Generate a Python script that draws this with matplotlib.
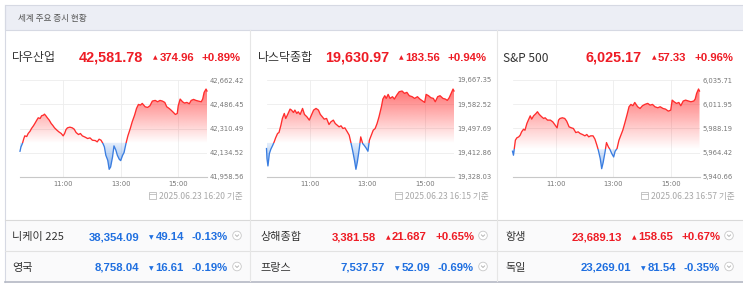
import numpy as np
import matplotlib
matplotlib.use("Agg")
import matplotlib.pyplot as plt
from matplotlib.patches import Rectangle, Circle, PathPatch
from matplotlib.lines import Line2D
from matplotlib.transforms import Affine2D
from matplotlib.colors import to_rgb

# ---- data -------------------------------------------------------------
header = "세계 주요 증시 현황"

main_names = ["다우산업", "나스닥종합", "S&P 500"]
main_values = [42581.78, 19630.97, 6025.17]
main_changes = [374.96, 183.56, 57.33]
main_pcts = [0.89, 0.94, 0.96]
main_stamps = ["2025.06.23 16:20", "2025.06.23 16:15", "2025.06.23 16:57"]
main_lows = [41958.56, 19328.03, 5940.66]
main_highs = [42662.42, 19667.35, 6035.71]
main_ticks = [
    [41958.56, 42134.52, 42310.49, 42486.45, 42662.42],
    [19328.03, 19412.86, 19497.69, 19582.52, 19667.35],
    [5940.66, 5964.42, 5988.19, 6011.95, 6035.71],
]
time_ticks = [90, 210, 330]          # minutes after 09:30
time_labels = ["11:00", "13:00", "15:00"]

# minutes after 09:30 and index level
dow_min = [0, 2, 5, 8, 10, 14, 17, 21, 24, 28, 31, 35, 38, 42, 45, 49, 51, 54, 57, 61,
           65, 68, 72, 77, 81, 86, 90, 93, 96, 99, 104, 109, 113, 117, 122, 126, 130, 136, 141, 146,
           151, 157, 161, 165, 169, 173, 176, 179, 183, 186, 189, 193, 196, 200, 203, 207, 210, 214, 217, 221,
           225, 230, 234, 239, 243, 247, 251, 255, 261, 266, 271, 276, 282, 287, 292, 297, 302, 306, 311, 315,
           320, 324, 328, 330, 334, 339, 343, 348, 353, 357, 362, 367, 372, 378, 381, 384, 388, 390]
dow_val = [42145.45, 42177.0, 42201.3, 42237.7, 42257.1, 42252.2, 42274.1, 42291.1, 42310.5, 42329.9,
           42346.9, 42371.1, 42388.1, 42383.3, 42402.7, 42407.6, 42414.8, 42402.7, 42388.1, 42371.1,
           42346.9, 42334.7, 42315.3, 42298.3, 42286.2, 42274.1, 42257.1, 42274.1, 42303.2, 42315.3,
           42320.2, 42315.3, 42305.6, 42281.3, 42266.8, 42274.1, 42257.1, 42247.4, 42237.7, 42242.5,
           42225.5, 42223.1, 42213.4, 42232.8, 42225.5, 42201.3, 42177.0, 42116.3, 42079.9, 42014.4,
           42031.4, 42104.2, 42184.3, 42152.7, 42116.3, 42087.2, 42077.5, 42116.3, 42135.7, 42201.3,
           42257.1, 42310.5, 42359.0, 42407.6, 42456.1, 42485.2, 42480.4, 42492.5, 42468.2, 42463.4,
           42475.5, 42509.5, 42514.3, 42504.6, 42514.3, 42509.5, 42499.8, 42468.2, 42456.1, 42444.0,
           42427.0, 42412.4, 42419.7, 42475.5, 42524.1, 42504.6, 42494.9, 42499.8, 42490.1, 42514.3,
           42521.6, 42514.3, 42509.5, 42504.6, 42524.1, 42572.6, 42596.9, 42582.3]

nas_min = [0, 1, 3, 6, 9, 13, 16, 19, 23, 26, 30, 33, 37, 40, 44, 49, 52, 56, 59, 63,
           66, 70, 75, 79, 84, 89, 94, 98, 103, 108, 112, 116, 120, 125, 130, 134, 139, 143, 147, 151,
           155, 159, 163, 168, 172, 176, 179, 183, 186, 189, 193, 196, 200, 203, 207, 211, 214, 218, 222, 226,
           230, 234, 239, 242, 246, 249, 253, 257, 262, 266, 271, 276, 282, 287, 292, 297, 303, 308, 314, 319,
           325, 329, 332, 337, 342, 347, 351, 356, 361, 367, 372, 376, 380, 385, 388, 390]
nas_val = [19427.5, 19392.4, 19366.7, 19410.0, 19425.2, 19439.2, 19450.9, 19465.0, 19480.2, 19483.7,
           19509.4, 19532.8, 19550.4, 19532.8, 19546.8, 19565.6, 19562.1, 19553.8, 19562.1, 19550.4,
           19556.2, 19546.8, 19567.9, 19546.8, 19538.7, 19527.0, 19546.8, 19562.1, 19567.9, 19562.1,
           19546.8, 19538.7, 19530.5, 19532.8, 19511.7, 19521.1, 19527.0, 19515.2, 19509.4, 19503.5,
           19507.1, 19497.7, 19500.0, 19486.0, 19474.3, 19445.0, 19421.6, 19386.5, 19354.9, 19380.7,
           19427.5, 19468.4, 19445.0, 19439.2, 19429.8, 19418.1, 19456.7, 19474.3, 19491.8, 19497.7,
           19515.2, 19538.7, 19573.8, 19600.7, 19612.4, 19603.0, 19617.1, 19603.0, 19608.9, 19600.7,
           19614.7, 19626.4, 19628.8, 19620.6, 19624.1, 19612.4, 19608.9, 19603.0, 19608.9, 19600.7,
           19593.6, 19589.0, 19617.1, 19612.4, 19605.3, 19603.0, 19591.3, 19608.9, 19612.4, 19603.0,
           19600.7, 19596.0, 19605.3, 19624.1, 19635.8, 19628.8]

sp_min = [0, 2, 6, 9, 13, 16, 19, 23, 26, 30, 33, 37, 40, 44, 49, 52, 56, 61, 65, 68,
          73, 79, 84, 88, 93, 96, 99, 104, 109, 113, 118, 123, 127, 132, 137, 141, 146, 151, 155, 159,
          163, 168, 172, 176, 179, 183, 186, 189, 193, 196, 200, 203, 207, 211, 214, 218, 222, 226, 230, 234,
          239, 243, 247, 251, 255, 261, 266, 271, 276, 282, 287, 292, 297, 303, 308, 314, 319, 325, 330, 333,
          337, 342, 347, 351, 356, 361, 367, 372, 378, 381, 384, 388, 390]
sp_val = [5965.9, 5962.0, 5976.7, 5979.0, 5980.0, 5981.6, 5984.9, 5987.5, 5986.5, 5993.1,
          5996.4, 6000.6, 5997.4, 6000.6, 6002.9, 6004.6, 6001.9, 5999.6, 5998.0, 5998.7,
          5996.4, 5996.4, 5994.7, 5992.1, 5988.8, 5996.4, 5998.0, 5998.7, 5998.0, 5995.4,
          5989.8, 5988.8, 5988.2, 5984.2, 5984.9, 5983.3, 5982.3, 5981.0, 5982.3, 5980.0,
          5981.0, 5981.0, 5977.7, 5971.8, 5966.9, 5958.7, 5948.8, 5954.7, 5965.2, 5974.4,
          5970.1, 5967.9, 5963.6, 5960.3, 5965.9, 5968.5, 5976.7, 5981.6, 5986.5, 5993.1,
          6001.9, 6009.5, 6011.8, 6010.5, 6013.7, 6009.5, 6007.8, 6010.5, 6011.8, 6012.8,
          6011.1, 6011.8, 6009.5, 6008.5, 6009.5, 6007.8, 6007.2, 6005.2, 6006.2, 6016.0,
          6014.4, 6012.8, 6013.7, 6010.5, 6015.1, 6016.0, 6015.1, 6014.4, 6015.1, 6017.0,
          6022.6, 6026.9, 6024.9]

series = [(dow_min, dow_val), (nas_min, nas_val), (sp_min, sp_val)]

sub_names = ["니케이 225", "상해종합", "항생", "영국", "프랑스", "독일"]
sub_values = [38354.09, 3381.58, 23689.13, 8758.04, 7537.57, 23269.01]
sub_changes = ["-49.14", "+21.687", "+158.65", "-16.61", "-52.09", "-81.54"]
sub_pcts = [-0.13, 0.65, 0.67, -0.19, -0.69, -0.35]

# ---- layout (pixels, origin top-left) -----------------------------------
W, H, DPI = 743, 286, 100
RED, BLUE = "#ee1c25", "#1f6fe0"
KR = ["Noto Sans CJK KR", "DejaVu Sans"]
NUM = ["Liberation Sans", "DejaVu Sans"]

fig = plt.figure(figsize=(W / DPI, H / DPI), dpi=DPI)
fig.patch.set_facecolor("white")
pix = Affine2D().scale(1 / DPI, -1 / DPI).translate(0, H / DPI) + fig.dpi_scale_trans
rend = fig.canvas.get_renderer()


def txt(x, y, s, **kw):
    kw.setdefault("va", "baseline")
    return fig.text(x, y, s, transform=pix, **kw)


def right_group(xr, y, items):
    # items listed right to left: (text, style, dy, gap to the next item)
    x = xr
    for s, kw, dy, gap in items:
        t = txt(x, y + dy, s, ha="right", **kw)
        x -= t.get_window_extent(rend).width + gap


def line(xs, ys, **kw):
    fig.add_artist(Line2D(xs, ys, transform=pix, **kw))


# frame, header band
fig.add_artist(Rectangle((5, 5), 745, 25, transform=pix, facecolor="#eceef5",
                         edgecolor="#d6d9e3", lw=0.8))
txt(18, 20.5, header, family=KR, fontsize=6.2, color="#555555")
line([5, 5], [5, 282], color="#d6d9e3", lw=0.8)
fig.add_artist(Rectangle((5, 220), 745, 61, transform=pix, facecolor="#fafafb",
                         edgecolor="none"))
line([5, 743], [220, 220], color="#d9d9d9", lw=0.8)
line([5, 743], [251, 251], color="#e2e2e2", lw=0.8)
line([5, 743], [281.5, 281.5], color="#b4b8c4", lw=1.2)
for sx in [250, 497]:
    line([sx, sx], [30, 281], color="#e6e6e6", lw=0.8)

# ---- the three intraday charts ------------------------------------------
name_x = [12, 258, 503]
ax_left = [20, 266.5, 512.5]
ax_right = [207, 454, 699.5]
group_right = [241, 487, 733]

for i in range(3):
    t = np.array(series[i][0], float)
    v = np.array(series[i][1], float)
    lo, hi = main_lows[i], main_highs[i]
    base = main_values[i] - main_changes[i]

    # title row
    txt(name_x[i], 61.5, main_names[i], family=KR, fontsize=8.6, color="#333333")
    col = RED if main_changes[i] > 0 else BLUE
    tri = "▲" if main_changes[i] > 0 else "▼"
    right_group(group_right[i], 61, [
        (f"{main_pcts[i]:+.2f}%", dict(family=NUM, fontsize=8.2, fontweight="bold", color=col), 0, 8),
        (f"{abs(main_changes[i]):,.2f}", dict(family=NUM, fontsize=8.2, fontweight="bold", color=col), 0, 1.5),
        (tri, dict(family="DejaVu Sans", fontsize=4.3, color=col), -1.5, 10),
        (f"{main_values[i]:,.2f}", dict(family=NUM, fontsize=10.4, fontweight="bold", color=col), 0, 0),
    ])

    ax = fig.add_axes([ax_left[i] / W, 1 - 177 / H, (ax_right[i] - ax_left[i]) / W, 97 / H])
    ax.patch.set_alpha(0)

    up = ax.fill_between(t, np.maximum(v, base), base, facecolor="none", edgecolor="none")
    dn = ax.fill_between(t, np.minimum(v, base), base, facecolor="none", edgecolor="none")
    for coll, fc, y0, y1, a0, a1 in [(up, "#ff3c3c", base, hi, 0.0, 0.85),
                                     (dn, "#3f86e6", lo, base, 0.75, 0.12)]:
        grad = np.zeros((256, 1, 4))
        grad[..., :3] = to_rgb(fc)
        grad[:, 0, 3] = np.linspace(a0, a1, 256)
        im = ax.imshow(grad, extent=[0, 390, y0, y1], origin="lower", aspect="auto",
                       interpolation="bilinear", zorder=1)
        clip = PathPatch(coll.get_paths()[0], transform=ax.transData,
                         facecolor="none", edgecolor="none")
        ax.add_patch(clip)
        im.set_clip_path(clip)

    for lc, y0, y1 in [("#ff2d2d", base, hi), ("#3a7de0", lo, base)]:
        ln, = ax.plot(t, v, color=lc, lw=0.95, zorder=3)
        ln.set_clip_path(Rectangle((-10, y0), 410, y1 - y0, transform=ax.transData))

    ax.set_xlim(0, 390)
    ax.set_ylim(lo, hi)
    ax.set_yticks(main_ticks[i])
    ax.set_yticklabels([f"{y:,.2f}" for y in main_ticks[i]])
    ax.yaxis.tick_right()
    ax.set_xticks(time_ticks)
    ax.set_xticklabels(time_labels)
    ax.tick_params(length=0, labelsize=4.9, labelcolor="#777777")
    ax.tick_params(axis="y", pad=2.2)
    ax.tick_params(axis="x", pad=3)
    ax.grid(True, color="#ededed", lw=0.6)
    ax.set_axisbelow(True)
    for s in ["top", "left", "right"]:
        ax.spines[s].set_visible(False)
    ax.spines["bottom"].set_color("#c8c8c8")
    ax.spines["bottom"].set_linewidth(0.8)

    # timestamp with a small calendar mark
    st = txt(group_right[i] + 2, 199, main_stamps[i] + " 기준", ha="right",
             family=KR, fontsize=6.2, color="#a8a8a8")
    sx = group_right[i] + 2 - st.get_window_extent(rend).width - 10
    fig.add_artist(Rectangle((sx, 192), 6.5, 6.5, transform=pix, facecolor="none",
                             edgecolor="#bbbbbb", lw=0.6))
    line([sx, sx + 6.5], [194, 194], color="#bbbbbb", lw=0.6)

# ---- two rows of other markets -------------------------------------------
col_name_x = [12, 260, 505]
col_right = [228, 474, 720]
row_y = [240, 271]

for k in range(6):
    r, c = divmod(k, 3)
    y = row_y[r]
    up_move = sub_changes[k].startswith("+")
    col = RED if up_move else BLUE
    tri = "▲" if up_move else "▼"
    txt(col_name_x[c], y, sub_names[k], family=KR, fontsize=8.0, color="#333333")
    right_group(col_right[c], y, [
        (f"{sub_pcts[k]:+.2f}%", dict(family=NUM, fontsize=8.2, fontweight="bold", color=col), 0, 8),
        (sub_changes[k][1:], dict(family=NUM, fontsize=8.2, fontweight="bold", color=col), 0, 1.5),
        (tri, dict(family="DejaVu Sans", fontsize=4.3, color=col), -1, 10),
        (f"{sub_values[k]:,.2f}", dict(family=NUM, fontsize=8.2, fontweight="bold", color=col), 0, 0),
    ])
    cx, cy = col_right[c] + 9, y - 4.5
    fig.add_artist(Circle((cx, cy), 4.3, transform=pix, facecolor="white",
                          edgecolor="#c8c8c8", lw=0.6))
    line([cx - 1.6, cx, cx + 1.6], [cy - 0.6, cy + 1.0, cy - 0.6], color="#aaaaaa", lw=0.6)

fig.savefig("out.png", dpi=DPI)
